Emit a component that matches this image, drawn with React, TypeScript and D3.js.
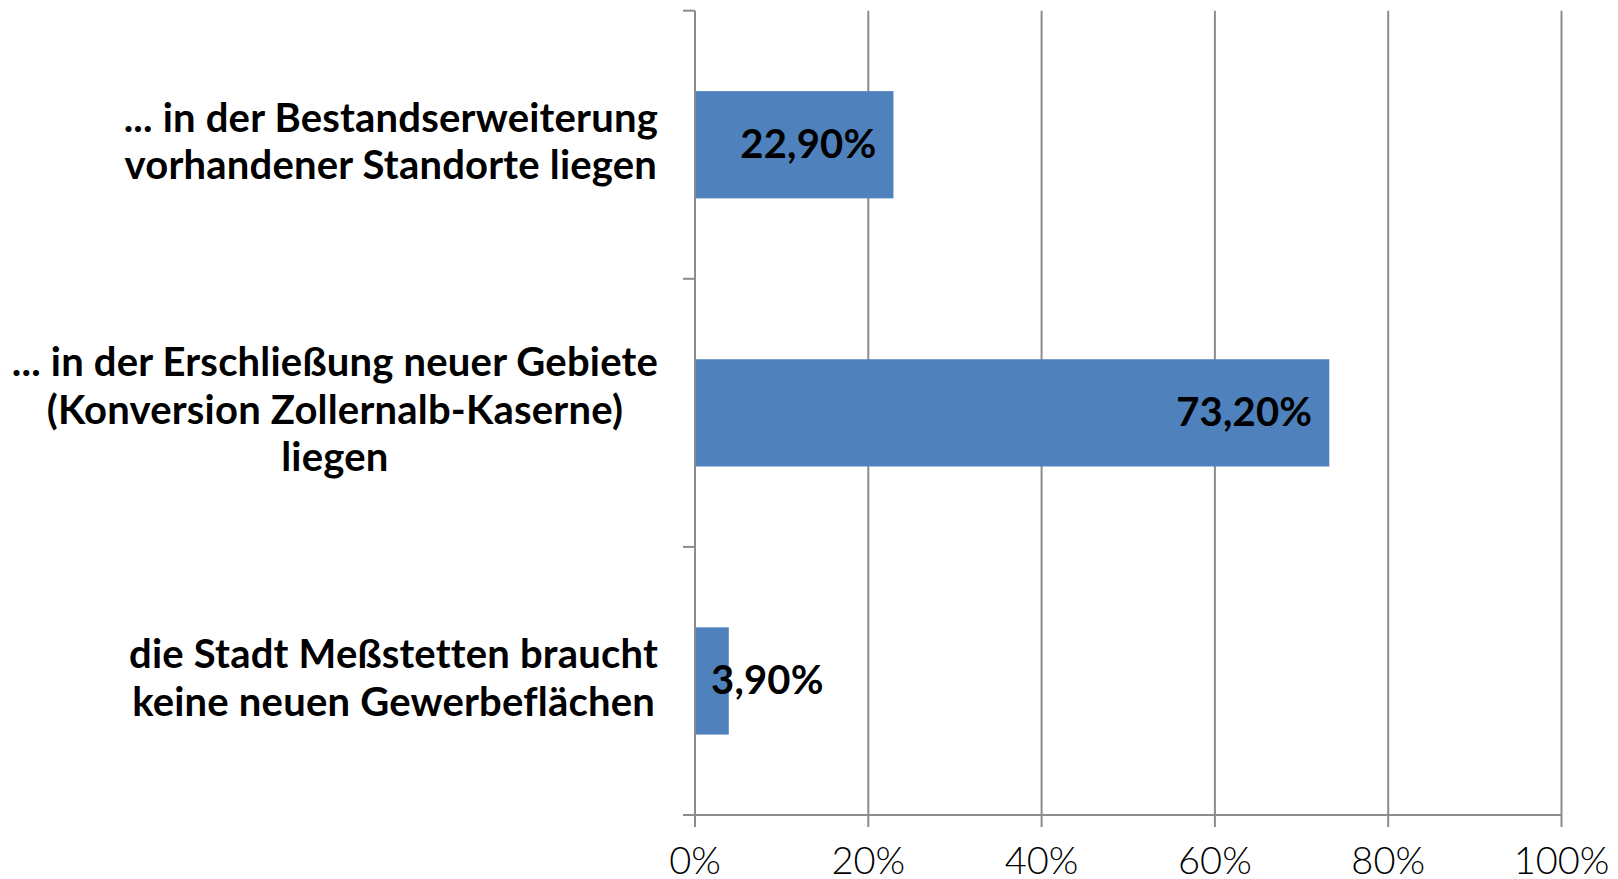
import { useEffect, useRef } from 'react'
import * as d3 from 'd3'

const categories = [
  ['... in der Bestandserweiterung', 'vorhandener Standorte liegen'],
  ['... in der Erschließung neuer Gebiete', '(Konversion Zollernalb-Kaserne)', 'liegen'],
  ['die Stadt Meßstetten braucht', 'keine neuen Gewerbeflächen'],
]
const values = [0.229, 0.732, 0.039]
const valueLabels = ['22,90%', '73,20%', '3,90%']
const xTicks = [0, 0.2, 0.4, 0.6, 0.8, 1]

const W = 1618
const H = 879
const FONT = 'Lato, "Noto Sans", sans-serif'

export default function App() {
  const ref = useRef<SVGSVGElement | null>(null)

  useEffect(() => {
    if (!ref.current) return
    const svg = d3.select(ref.current)
    svg.selectAll('*').remove()

    const left = 695, right = 1561.5, top = 10.7, bottom = 815

    const x = d3.scaleLinear().domain([0, 1]).range([left, right])
    const y = d3.scaleBand<number>()
      .domain(d3.range(categories.length))
      .range([top, bottom])
      .paddingInner(0.6)
      .paddingOuter(0.3)
    const step = (bottom - top) / categories.length

    // gridlines
    svg.append('g')
      .selectAll('line')
      .data(xTicks.slice(1))
      .enter()
      .append('line')
      .attr('x1', d => x(d)).attr('x2', d => x(d))
      .attr('y1', top).attr('y2', bottom)
      .style('stroke', '#8c8c8c')
      .style('stroke-width', 2)

    // bars
    svg.append('g')
      .selectAll('rect')
      .data(values)
      .enter()
      .append('rect')
      .attr('x', x(0))
      .attr('y', (d, i) => y(i)!)
      .attr('width', d => x(d) - x(0))
      .attr('height', y.bandwidth())
      .style('fill', '#4f81bd')

    // value axis (bottom)
    const ax = svg.append('g')
    ax.append('line')
      .attr('x1', left - 12).attr('x2', right)
      .attr('y1', bottom).attr('y2', bottom)
      .style('stroke', '#8c8c8c').style('stroke-width', 2)
    ax.selectAll('line.tick')
      .data(xTicks)
      .enter()
      .append('line')
      .attr('class', 'tick')
      .attr('x1', d => x(d)).attr('x2', d => x(d))
      .attr('y1', bottom).attr('y2', bottom + 12)
      .style('stroke', '#8c8c8c').style('stroke-width', 2)
    ax.selectAll('text')
      .data(xTicks)
      .enter()
      .append('text')
      .attr('x', d => x(d))
      .attr('y', 874)
      .attr('text-anchor', 'middle')
      .text(d => `${Math.round(d * 100)}%`)
      .style('font-family', FONT)
      .style('font-weight', 300)
      .style('font-size', '38px')
      .style('fill', '#000')

    // category axis (left)
    const ay = svg.append('g')
    ay.append('line')
      .attr('x1', left).attr('x2', left)
      .attr('y1', top).attr('y2', bottom)
      .style('stroke', '#8c8c8c').style('stroke-width', 2)
    ay.selectAll('line.tick')
      .data(d3.range(categories.length + 1))
      .enter()
      .append('line')
      .attr('class', 'tick')
      .attr('x1', left - 12).attr('x2', left)
      .attr('y1', d => top + d * step).attr('y2', d => top + d * step)
      .style('stroke', '#8c8c8c').style('stroke-width', 2)

    // category labels, centered as a block right-aligned to 658
    const lineH = 47.5
    categories.forEach((lines, i) => {
      const cy = y(i)! + y.bandwidth() / 2
      const g = ay.append('g')
      const texts = g.selectAll('text')
        .data(lines)
        .enter()
        .append('text')
        .attr('y', (d, j) => cy + (j - (lines.length - 1) / 2) * lineH)
        .attr('dy', '0.27em')
        .attr('text-anchor', 'middle')
        .text(d => d)
        .style('font-family', FONT)
        .style('font-weight', 700)
        .style('font-size', '40px')
        .style('letter-spacing', '0.2px')
        .style('fill', '#000')
      let maxW = 0
      texts.each(function () {
        maxW = Math.max(maxW, (this as SVGTextElement).getComputedTextLength())
      })
      texts.attr('x', 658 - maxW / 2)
    })

    // value labels
    svg.append('g')
      .selectAll('text')
      .data(values)
      .enter()
      .append('text')
      .attr('y', (d, i) => y(i)! + y.bandwidth() / 2)
      .attr('dy', '0.33em')
      .text((d, i) => valueLabels[i])
      .style('font-family', FONT)
      .style('font-weight', 700)
      .style('font-size', '40px')
      .style('letter-spacing', '0.2px')
      .style('fill', '#000')
      .each(function (d) {
        const t = d3.select(this)
        const w = (this as SVGTextElement).getComputedTextLength()
        const barW = x(d) - x(0)
        if (barW > w + 34) {
          t.attr('x', x(d) - 17).attr('text-anchor', 'end')
        } else {
          t.attr('x', x(0) + 16).attr('text-anchor', 'start')
        }
      })
  }, [])

  return (
    <svg
      ref={ref}
      width={W}
      height={H}
      style={{ position: 'absolute', left: 0, top: 0, background: '#fff' }}
    />
  )
}
